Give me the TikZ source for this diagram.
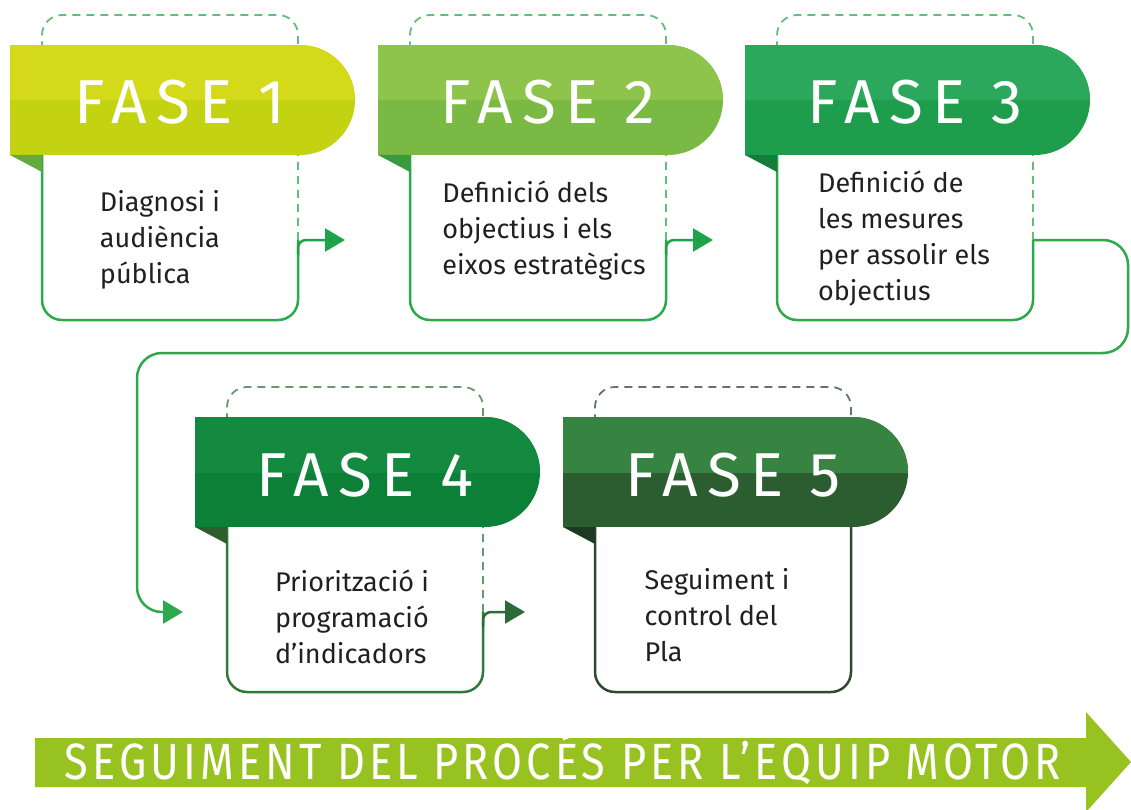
\documentclass[tikz,border=0pt]{standalone}
\usepackage{fontspec}
\setmainfont{Fira Sans}
\usetikzlibrary{positioning, arrows.meta}
\definecolor{top1}{HTML}{D4DA1A}\definecolor{bot1}{HTML}{C3D312}
\definecolor{fold1}{HTML}{62AB3C}\definecolor{line1}{HTML}{2EA84C}
\definecolor{top2}{HTML}{8EC34C}\definecolor{bot2}{HTML}{79B944}
\definecolor{fold2}{HTML}{3A9A40}\definecolor{line2}{HTML}{2EA84C}
\definecolor{top3}{HTML}{2BA85B}\definecolor{bot3}{HTML}{1E9E4D}
\definecolor{fold3}{HTML}{137D3C}\definecolor{line3}{HTML}{2EA84C}
\definecolor{top4}{HTML}{148A40}\definecolor{bot4}{HTML}{0D8038}
\definecolor{fold4}{HTML}{2E5E2E}\definecolor{line4}{HTML}{2F7A3A}
\definecolor{top5}{HTML}{378342}\definecolor{bot5}{HTML}{2B5D30}
\definecolor{fold5}{HTML}{1C3A21}\definecolor{line5}{HTML}{2C4A31}
\definecolor{arrgreen}{HTML}{1DA34A}\definecolor{arrdark}{HTML}{2C6B35}
\definecolor{band}{HTML}{97C21F}\definecolor{ink}{HTML}{231F20}

\begin{document}
\begin{tikzpicture}[x=1pt,y=-1pt,
  faseline/.style={line width=2.5pt,rounded corners=20},
  dashline/.style={line width=1.8pt,dash pattern=on 8pt off 6pt,rounded corners=20},
  fasetext/.style={text=white,inner sep=0,font=\fontsize{62}{62}\selectfont\addfontfeature{LetterSpace=15}},
  desc/.style={align=left,text=ink,inner sep=0,font=\fontsize{27}{36}\selectfont},
  arr/.style={line width=2.5pt,rounded corners=8,-{Triangle[length=20pt,width=23pt]}},
  bandtext/.style={text=white,inner sep=0,font=\fontsize{51}{51}\selectfont\addfontfeature{FakeStretch=0.85,LetterSpace=8}}]
\useasboundingbox (0,0) rectangle (1131,810);
\foreach \n/\x/\y/\d/\tx/\ty/\txt in {
  1/10/45/195/150/195/{Diagnosi i\\audiència\\pública},
  2/378/45/195/166/186/{Definició dels\\objectius i els\\eixos estratègics},
  3/745/45/195/159/194/{Definició de\\les mesures\\per assolir els\\objectius},
  4/195/417/195/157/200/{Priorització i\\programació\\d’indicadors},
  5/563/417/110/154/198/{Seguiment i\\control del\\Pla}}{
\begin{scope}[shift={(\x,\y)}]
\draw[dashline,draw=line\n!75!white] (288,\d) |- (32,-30) -- (32,0);
\draw[faseline,draw=line\n] (32,110) |- (288,275) -- (288,\d);
\fill[fill=bot\n] (0,0) rectangle (290,110);
\fill[fill=bot\n] (290,55) circle (55);
\begin{scope}
\clip (0,0) rectangle (345,55);
\fill[fill=top\n] (0,0) rectangle (290,110);
\fill[fill=top\n] (290,55) circle (55);
\end{scope}
\fill[fill=fold\n] (0,110) -- (32,110) -- (32,127) -- cycle;
\node[fasetext,anchor=base] (head\n) at (170,79) {FASE \n};
\node[desc] (text\n) at (\tx,\ty) {\txt};
\coordinate (out\n) at (288,\d);
\end{scope}}
\coordinate (in4) at (183,612);
\draw[arr,color=arrgreen] (out1) ++(0,15) |- ++(47,-15);
\draw[arr,color=arrgreen] (out2) ++(0,15) |- ++(47,-15);
\draw[arr,color=line3,rounded corners=25] (out3) -- ++(95,0) |- (137,353) |- (in4);
\draw[arr,color=arrdark] (out4) ++(0,15) |- ++(42,-15);
\fill[band] (35,738) -- (1086,738) -- (1086,712) -- (1131,762) -- (1086,812) -- (1086,787) -- (35,787) -- cycle;
\node[bandtext,anchor=base] (motor) at (563,779) {SEGUIMENT DEL PROCÉS PER L’EQUIP MOTOR};
\end{tikzpicture}
\end{document}
